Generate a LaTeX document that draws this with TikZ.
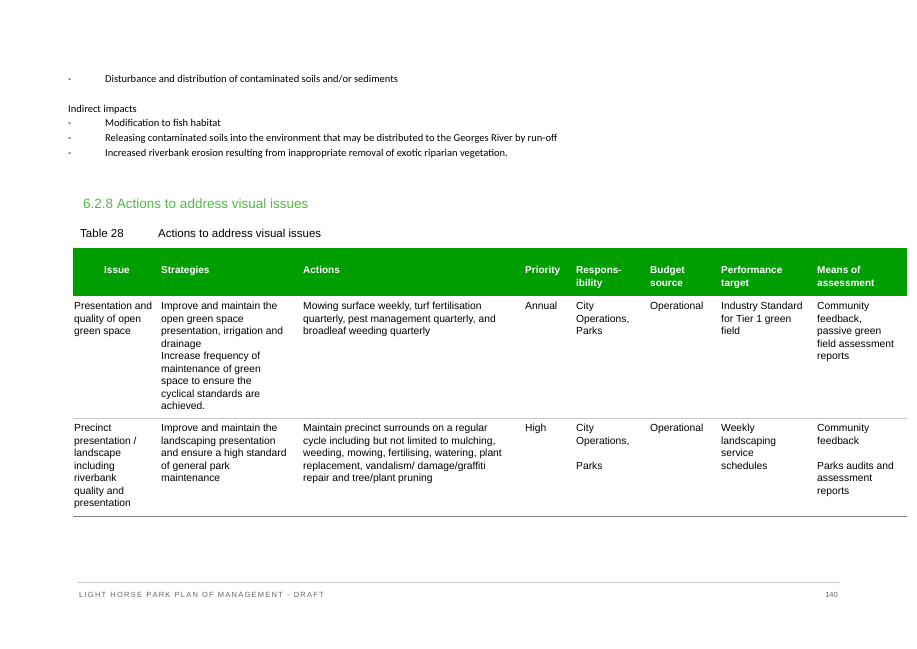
\documentclass[tikz,border=0pt]{standalone}
\usepackage{fontspec}
\setmainfont{Liberation Sans}
\newfontfamily\calib{Carlito}
\definecolor{hdrgreen}{RGB}{0,158,0}
\definecolor{headgreen}{RGB}{80,185,70}
\definecolor{rulegray}{RGB}{200,200,200}
\begin{document}
\begin{tikzpicture}[x=1pt,y=-1pt,
  cell/.style={anchor=north west,inner sep=0pt,align=left,font=\fontsize{10.3}{12.5}\selectfont},
  hdr/.style={anchor=north west,inner sep=0pt,align=left,text=white,font=\bfseries\fontsize{10}{13}\selectfont},
  body/.style={anchor=base west,inner sep=0pt,font=\calib\fontsize{10.5}{12}\selectfont}]
\useasboundingbox (0,0) rectangle (917,648);
% intro text
\node[body] (d1) at (68,82) {-};
\node[body] (t1) at (105,82) {Disturbance and distribution of contaminated soils and/or sediments};
\node[body] (ii) at (68,112) {Indirect impacts};
\node[body] (d2) at (68,126) {-};
\node[body] (t2) at (105,126) {Modification to fish habitat};
\node[body] (d3) at (68,141) {-};
\node[body] (t3) at (105,141) {Releasing contaminated soils into the environment that may be distributed to the Georges River by run-off};
\node[body] (d4) at (68,156) {-};
\node[body] (t4) at (105,156) {Increased riverbank erosion resulting from inappropriate removal of exotic riparian vegetation.};
% heading
\node[anchor=base west,inner sep=0pt,text=headgreen,font=\fontsize{13.5}{15}\selectfont] (h) at (83,208) {6.2.8 Actions to address visual issues};
\node[anchor=base west,inner sep=0pt,font=\fontsize{11.5}{13}\selectfont] (tl) at (80,237) {Table 28};
\node[anchor=base west,inner sep=0pt,font=\fontsize{11.5}{13}\selectfont] (tt) at (158,237) {Actions to address visual issues};
% header bar
\fill[hdrgreen] (73,248) rectangle (907,296);
\node[hdr] (c1) at (104,266) {Issue};
\node[hdr] (c2) at (161,266) {Strategies};
\node[hdr] (c3) at (303,266) {Actions};
\node[hdr] (c4) at (525,266) {Priority};
\node[hdr] (c5) at (576,266) {Respons-\\ibility};
\node[hdr] (c6) at (650,266) {Budget\\source};
\node[hdr] (c7) at (721,266) {Performance\\target};
\node[hdr] (c8) at (817,266) {Means of\\assessment};
% row 1
\node[cell] (r1a) at (74,302) {Presentation and\\quality of open\\green space};
\node[cell] (r1b) at (161,302) {Improve and maintain the\\open green space\\presentation, irrigation and\\drainage\\Increase frequency of\\maintenance of green\\space to ensure the\\cyclical standards are\\achieved.};
\node[cell] (r1c) at (303,302) {Mowing surface weekly, turf fertilisation\\quarterly, pest management quarterly, and\\broadleaf weeding quarterly};
\node[cell] (r1d) at (525,302) {Annual};
\node[cell] (r1e) at (576,302) {City\\Operations,\\Parks};
\node[cell] (r1f) at (650,302) {Operational};
\node[cell] (r1g) at (721,302) {Industry Standard\\for Tier 1 green\\field};
\node[cell] (r1h) at (817,302) {Community\\feedback,\\passive green\\field assessment\\reports};
\draw[rulegray,line width=0.6pt] (73,418) -- (907,418);
% row 2
\node[cell] (r2a) at (74,424) {Precinct\\presentation /\\landscape\\including\\riverbank\\quality and\\presentation};
\node[cell] (r2b) at (161,424) {Improve and maintain the\\landscaping presentation\\and ensure a high standard\\of general park\\maintenance};
\node[cell] (r2c) at (303,424) {Maintain precinct surrounds on a regular\\cycle including but not limited to mulching,\\weeding, mowing, fertilising, watering, plant\\replacement, vandalism/ damage/graffiti\\repair and tree/plant pruning};
\node[cell] (r2d) at (525,424) {High};
\node[cell] (r2e) at (576,424) {City\\Operations,\\\\Parks};
\node[cell] (r2f) at (650,424) {Operational};
\node[cell] (r2g) at (721,424) {Weekly\\landscaping\\service\\schedules};
\node[cell] (r2h) at (817,424) {Community\\feedback\\\\Parks audits and\\assessment\\reports};
\draw[gray,line width=0.6pt] (73,516) -- (907,516);
% footer
\draw[rulegray,line width=0.6pt] (78,582) -- (840,582);
\node[anchor=base west,inner sep=0pt,text=gray!80!black,font=\fontsize{7.5}{9}\selectfont] (ft) at (79,597) {L\,I\,G\,H\,T\ \ H\,O\,R\,S\,E\ \ P\,A\,R\,K\ \ P\,L\,A\,N\ \ O\,F\ \ M\,A\,N\,A\,G\,E\,M\,E\,N\,T\ \ -\ \ D\,R\,A\,F\,T};
\node[anchor=base east,inner sep=0pt,text=gray!80!black,font=\fontsize{7.5}{9}\selectfont] (pg) at (838,597) {140};
\end{tikzpicture}
\end{document}
